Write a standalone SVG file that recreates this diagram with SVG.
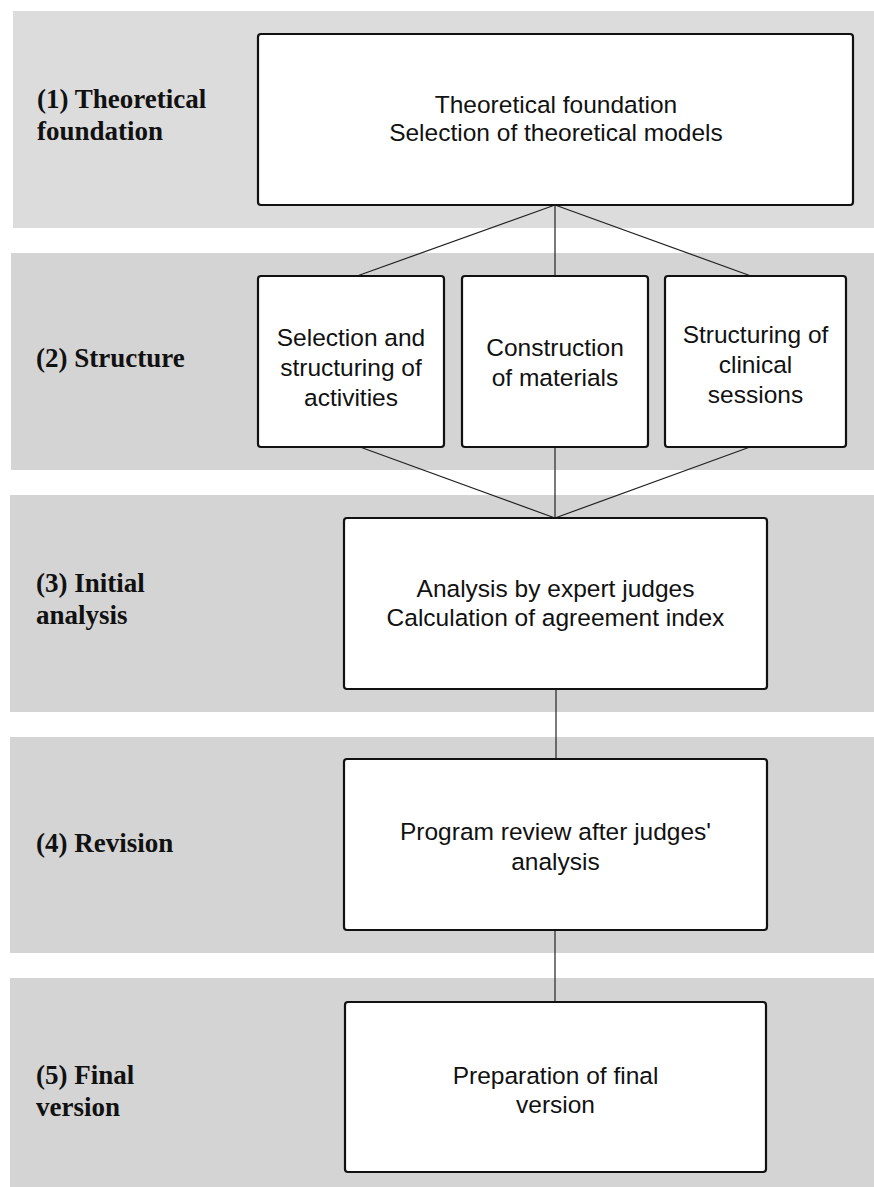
<svg xmlns="http://www.w3.org/2000/svg" width="874" height="1187" viewBox="0 0 874 1187">
<style>
.band{fill:#d4d4d4;stroke:none}
.box{fill:#ffffff;stroke:#111111;stroke-width:2.2}
.lbl{font-family:"Liberation Serif","Times New Roman",serif;font-weight:bold;font-size:27px;fill:#111111}
.txt{font-family:"Liberation Sans",Arial,sans-serif;font-size:24.5px;fill:#111111;text-anchor:middle}
.con{stroke:#222222;stroke-width:1.2;fill:none}
</style>
<rect width="874" height="1187" fill="#ffffff"/>
<g id="bands">
<rect class="band" x="13" y="11" width="861" height="217" style="fill:#dcdcdc"/>
<rect class="band" x="11" y="253" width="863" height="217"/>
<rect class="band" x="10" y="495" width="864" height="217"/>
<rect class="band" x="10" y="737" width="864" height="216"/>
<rect class="band" x="10" y="978" width="864" height="209"/>
</g>
<g id="stage-labels">
<text class="lbl" x="37" y="108">(1) Theoretical</text>
<text class="lbl" x="37" y="140">foundation</text>
<text class="lbl" x="36" y="367">(2) Structure</text>
<text class="lbl" x="36" y="592">(3) Initial</text>
<text class="lbl" x="36" y="624">analysis</text>
<text class="lbl" x="36" y="852">(4) Revision</text>
<text class="lbl" x="36" y="1084">(5) Final</text>
<text class="lbl" x="36" y="1116">version</text>
</g>
<g id="connectors">
<line class="con" x1="555" y1="205" x2="357" y2="276"/>
<line class="con" x1="555" y1="205" x2="555" y2="276"/>
<line class="con" x1="555" y1="205" x2="751" y2="276"/>
<line class="con" x1="360" y1="447" x2="555" y2="518"/>
<line class="con" x1="555" y1="447" x2="555" y2="518"/>
<line class="con" x1="750" y1="447" x2="555" y2="518"/>
<line class="con" x1="556" y1="689" x2="556" y2="759"/>
<line class="con" x1="555" y1="930" x2="555" y2="1002"/>
</g>
<g id="node-theory">
<rect class="box" x="258" y="34" width="595" height="171" rx="3"/>
<text class="txt" x="556" y="113">Theoretical foundation</text>
<text class="txt" x="556" y="141">Selection of theoretical models</text>
</g>
<g id="node-activities">
<rect class="box" x="258" y="276" width="186" height="171" rx="3"/>
<text class="txt" x="351" y="346">Selection and</text>
<text class="txt" x="351" y="376">structuring of</text>
<text class="txt" x="351" y="406">activities</text>
</g>
<g id="node-materials">
<rect class="box" x="462" y="276" width="186" height="171" rx="3"/>
<text class="txt" x="555" y="356">Construction</text>
<text class="txt" x="555" y="386">of materials</text>
</g>
<g id="node-sessions">
<rect class="box" x="665" y="276" width="181" height="171" rx="3"/>
<text class="txt" x="755.5" y="343">Structuring of</text>
<text class="txt" x="755.5" y="373">clinical</text>
<text class="txt" x="755.5" y="403">sessions</text>
</g>
<g id="node-analysis">
<rect class="box" x="344" y="518" width="423" height="171" rx="3"/>
<text class="txt" x="555.5" y="597">Analysis by expert judges</text>
<text class="txt" x="555.5" y="626">Calculation of agreement index</text>
</g>
<g id="node-revision">
<rect class="box" x="344" y="759" width="423" height="171" rx="3"/>
<text class="txt" x="555.5" y="840">Program review after judges'</text>
<text class="txt" x="555.5" y="870">analysis</text>
</g>
<g id="node-final">
<rect class="box" x="345" y="1002" width="421" height="170" rx="3"/>
<text class="txt" x="555.5" y="1084">Preparation of final</text>
<text class="txt" x="555.5" y="1113">version</text>
</g>
</svg>
